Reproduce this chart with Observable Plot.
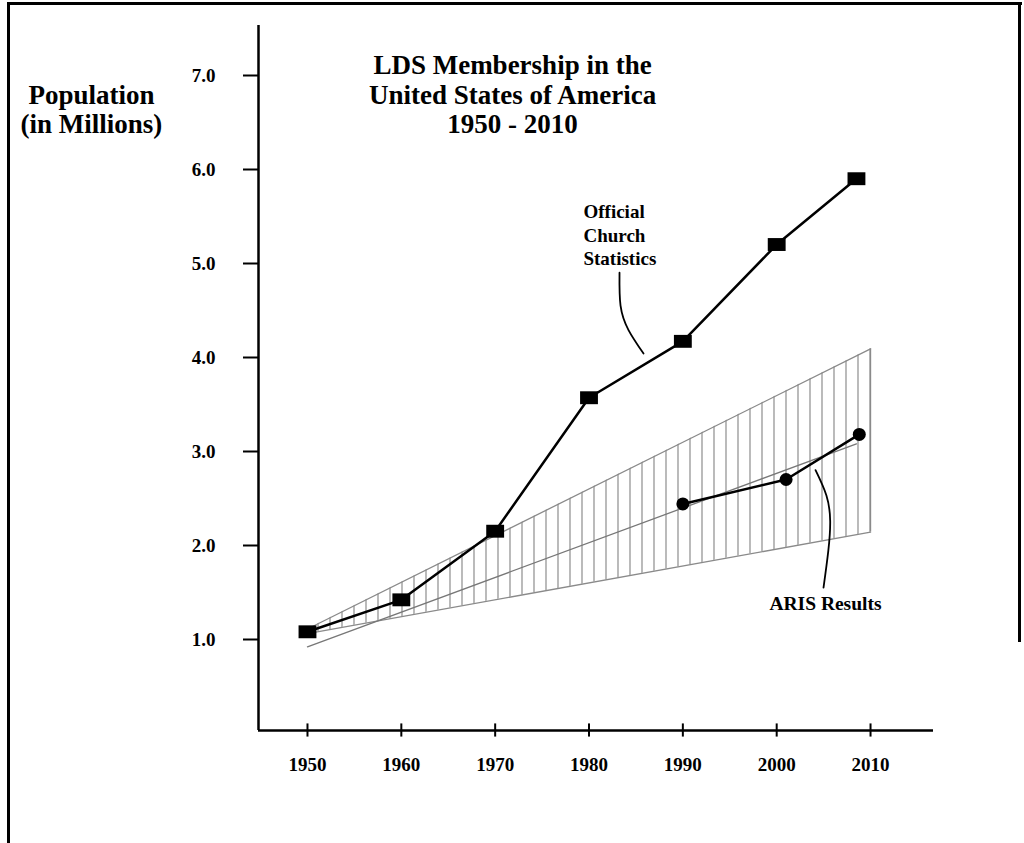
<!DOCTYPE html>
<html>
<head>
<meta charset="utf-8">
<script src="https://cdn.jsdelivr.net/npm/d3@7"></script>
<script src="https://cdn.jsdelivr.net/npm/@observablehq/plot@0.6"></script>
<style>
  html, body { margin: 0; padding: 0; background: #fff; }
  #wrap { position: relative; width: 1024px; height: 843px; overflow: hidden; background: #fff; }
  #wrap svg { position: absolute; left: 0; top: 0; }
  .bt { position: absolute; left: 7px; top: 2px; width: 1015px; height: 3px; background: #000; }
  .bl { position: absolute; left: 7px; top: 2px; width: 3px; height: 850px; background: #000; }
  .br { position: absolute; left: 1018px; top: 2px; width: 3px; height: 640px; background: #000; }
</style>
</head>
<body>
<div id="wrap"><div class="bt"></div><div class="bl"></div><div class="br"></div></div>
<script>
// ---- data ----
const officialYears = [1950, 1960, 1970, 1980, 1990, 2000, 2008.5];
const officialValues = [1.05, 1.39, 2.12, 3.54, 4.14, 5.17, 5.87];

const arisYears = [1990, 2001, 2008.8];
const arisValues = [2.41, 2.67, 3.15];

// projection wedge (low / high bounds) and central trend
const wedgeYears = [1950, 2010];
const wedgeLow = [1.03, 2.11];
const wedgeHigh = [1.08, 4.06];
const trendYears = [1950, 2008.5];
const trendValues = [0.89, 3.05];

// axis ticks
const xTicks = [1950, 1960, 1970, 1980, 1990, 2000, 2010];
const yTicks = [1, 2, 3, 4, 5, 6, 7];

// annotation leader curves
const officialLeaderX = [1983.25, 1983.36, 1984.21, 1985.81];
const officialLeaderY = [4.87, 4.52, 4.26, 4.01];
const arisLeaderX = [2004.14, 2005.3, 2005.7, 2005.5, 2004.99];
const arisLeaderY = [2.77, 2.50, 2.23, 1.91, 1.52];

// texts
const titleText = "LDS Membership in the\nUnited States of America\n1950 - 2010";
const yLabelText = "Population\n(in Millions)";
const officialLabel = "Official\nChurch\nStatistics";
const arisLabel = "ARIS Results";

// ---- tables built from arrays ----
const official = officialYears.map((y, i) => ({year: y, value: officialValues[i]}));
const aris = arisYears.map((y, i) => ({year: y, value: arisValues[i]}));
const wedge = wedgeYears.map((y, i) => ({year: y, lo: wedgeLow[i], hi: wedgeHigh[i]}));
const trend = trendYears.map((y, i) => ({year: y, value: trendValues[i]}));
const offLeader = officialLeaderX.map((x, i) => ({x, y: officialLeaderY[i]}));
const arisLeader = arisLeaderX.map((x, i) => ({x, y: arisLeaderY[i]}));

const xDomain = [1944.78, 2016.71];
const yDomain = [0, 7.5];

const rectSymbol = {
  draw(context, size) {
    const s = Math.sqrt(size);
    context.rect(-s * 0.72, -s * 0.52, s * 1.44, s * 1.04);
    context.closePath();
  }
};

const serif = '"Liberation Serif", "Times New Roman", serif';

const chart = Plot.plot({
  width: 1024,
  height: 843,
  marginLeft: 258,
  marginRight: 91,
  marginTop: 25,
  marginBottom: 113,
  x: {domain: xDomain},
  y: {domain: yDomain},
  style: {fontFamily: serif, fontSize: "19px", fontWeight: "bold", background: "transparent", color: "#000"},
  marks: [
    // hatched wedge
    Plot.areaY(wedge, {x: "year", y1: "lo", y2: "hi", fill: "url(#hatch)"}),
    Plot.line(wedge, {x: "year", y: "lo", stroke: "#8a8a8a", strokeWidth: 1.3}),
    Plot.line(wedge, {x: "year", y: "hi", stroke: "#8a8a8a", strokeWidth: 1.3}),
    Plot.ruleX(wedge.slice(-1), {x: "year", y1: "lo", y2: "hi", stroke: "#8a8a8a", strokeWidth: 1.3}),
    Plot.line(trend, {x: "year", y: "value", stroke: "#777", strokeWidth: 1.3}),

    // axes lines
    Plot.ruleX([xDomain[0]], {stroke: "#000", strokeWidth: 2.5}),
    Plot.ruleY([0], {stroke: "#000", strokeWidth: 2.5}),
    Plot.ruleX(xTicks, {y1: -0.07, y2: 0.07, stroke: "#000", strokeWidth: 2}),
    Plot.axisX({ticks: xTicks, tickSize: 0, tickPadding: 27, tickFormat: d => String(d), fontSize: 19, fontWeight: "bold"}),
    Plot.axisY({ticks: yTicks, tickSize: 15, tickPadding: 28, strokeWidth: 2, tickFormat: d => d.toFixed(1), dy: 3, fontSize: 19, fontWeight: "bold"}),

    // ARIS series
    Plot.line(aris, {x: "year", y: "value", stroke: "#000", strokeWidth: 2.5}),
    Plot.dot(aris, {x: "year", y: "value", r: 6.5, fill: "#000", stroke: "none"}),

    // Official series
    Plot.line(official, {x: "year", y: "value", stroke: "#000", strokeWidth: 2.5}),
    Plot.dot(official, {x: "year", y: "value", symbol: rectSymbol, r: 7, fill: "#000", stroke: "none"}),

    // leaders
    Plot.line(offLeader, {x: "x", y: "y", curve: "natural", stroke: "#000", strokeWidth: 1.8}),
    Plot.line(arisLeader, {x: "x", y: "y", curve: "natural", stroke: "#000", strokeWidth: 1.8}),

    // texts
    Plot.text([titleText], {x: 1971.85, y: 6.77, text: d => d, fontSize: 27, fontWeight: "bold", lineHeight: 1.1, textAnchor: "middle"}),
    Plot.text([yLabelText], {x: 1926.98, y: 6.61, text: d => d, fontSize: 27, fontWeight: "bold", lineHeight: 1.07, textAnchor: "middle"}),
    Plot.text([officialLabel], {x: 1979.41, y: 5.28, text: d => d, fontSize: 19, fontWeight: "bold", lineHeight: 1.24, textAnchor: "start"}),
    Plot.text([arisLabel], {x: 2005.2, y: 1.35, text: d => d, fontSize: 19.5, fontWeight: "bold", textAnchor: "middle"})
  ]
});

// hatch pattern for the wedge
const ns = "http://www.w3.org/2000/svg";
const defs = document.createElementNS(ns, "defs");
const pat = document.createElementNS(ns, "pattern");
pat.setAttribute("id", "hatch");
pat.setAttribute("patternUnits", "userSpaceOnUse");
pat.setAttribute("width", "12");
pat.setAttribute("height", "20");
const ln = document.createElementNS(ns, "line");
ln.setAttribute("x1", "6"); ln.setAttribute("x2", "6");
ln.setAttribute("y1", "0"); ln.setAttribute("y2", "20");
ln.setAttribute("stroke", "#8c8c8c");
ln.setAttribute("stroke-width", "1.2");
pat.appendChild(ln);
defs.appendChild(pat);
chart.insertBefore(defs, chart.firstChild);

document.getElementById("wrap").appendChild(chart);
</script>
</body>
</html>
